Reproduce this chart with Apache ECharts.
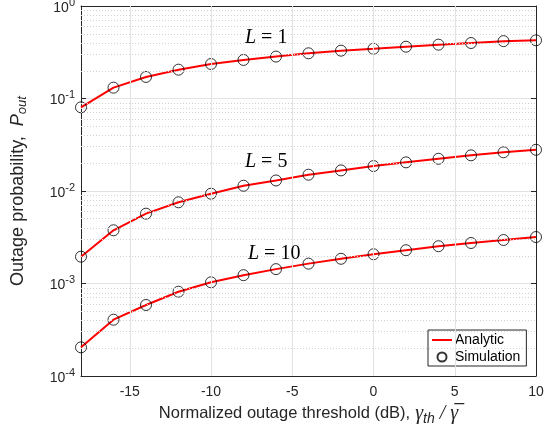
<!DOCTYPE html>
<html>
<head>
<meta charset="utf-8">
<script src="https://cdn.jsdelivr.net/npm/echarts@6/dist/echarts.min.js"></script>
<style>
html, body { margin: 0; padding: 0; background: #fff; }
#main { width: 549px; height: 434px; }
</style>
</head>
<body>
<div id="main"></div>
<script>
// threshold in dB
var xValues = [-18, -16, -14, -12, -10, -8, -6, -4, -2, 0, 2, 4, 6, 8, 10];
// outage probability, L = 1
var pL1 = [0.0803, 0.131, 0.171, 0.205, 0.236, 0.261, 0.284, 0.308, 0.329, 0.345, 0.363, 0.382, 0.398, 0.417, 0.426];
// L = 5
var pL5 = [0.00195, 0.00376, 0.00569, 0.00755, 0.00935, 0.0114, 0.0130, 0.0150, 0.0167, 0.0186, 0.0204, 0.0223, 0.0243, 0.0262, 0.0279];
// L = 10
var pL10 = [0.000204, 0.000406, 0.000586, 0.000815, 0.00103, 0.00123, 0.00143, 0.00164, 0.00185, 0.00207, 0.00229, 0.00253, 0.00274, 0.00295, 0.00318];
var xTicks = [-15, -10, -5, 0, 5, 10];
var decades = [1e-4, 1e-3, 1e-2, 1e-1];

// minor log grid positions (2..9 x each decade), as exponents
var minorExp = [];
for (var d = 0; d < decades.length; d++) {
	for (var m = 2; m <= 9; m++) minorExp.push(Math.log10(decades[d] * m));
}

var sansFont = 'Liberation Sans';
var serifFont = 'Liberation Serif';
var textColor = '#262626';

function pairs(ys) {
	var out = [];
	for (var i = 0; i < xValues.length; i++) out.push([xValues[i], ys[i]]);
	return out;
}

function lineSeries(ys) {
	return {
		name: 'Analytic',
		type: 'line',
		symbol: 'none',
		smooth: false,
		lineStyle: { color: '#ff0000', width: 2 },
		itemStyle: { color: '#ff0000' },
		z: 3,
		data: pairs(ys)
	};
}

function markerSeries(ys) {
	return {
		name: 'Simulation',
		type: 'scatter',
		symbol: 'circle',
		symbolSize: 11,
		itemStyle: { color: 'rgba(0,0,0,0)', borderColor: '#000', borderWidth: 1 },
		z: 4,
		data: pairs(ys)
	};
}

function lLabel(n) {
	return {
		text: '{i|L}{n| = ' + n + '}',
		rich: {
			i: { fontFamily: serifFont, fontStyle: 'italic', fontSize: 20, color: '#000' },
			n: { fontFamily: serifFont, fontSize: 20, color: '#000' }
		}
	};
}

var myChart = echarts.init(document.getElementById('main'));

var option = {
	animation: false,
	backgroundColor: '#fff',
	textStyle: { fontFamily: sansFont },
	grid: { left: 81, right: 13, top: 6, bottom: 58, outerBoundsMode: 'none', containLabel: false },
	legend: {
		orient: 'vertical',
		left: 428,
		top: 330,
		data: [
			{ name: 'Analytic', icon: 'path://M0,0H20V2H0Z' },
			{ name: 'Simulation' }
		],
		backgroundColor: '#fff',
		borderColor: '#262626',
		borderWidth: 1,
		borderRadius: 0,
		padding: [3, 6, 2, 4],
		itemGap: 3,
		itemWidth: 20,
		itemHeight: 9,
		textStyle: { fontFamily: sansFont, fontSize: 14, color: '#000', padding: [0, 0, 0, -2] }
	},
	xAxis: [{
		type: 'value',
		min: -18,
		max: 10,
		name: '{n|Normalized outage threshold (dB),}{g| γ}{sub|th}{g| / γ\u0305}',
		nameLocation: 'middle',
		nameGap: 24,
		nameTextStyle: {
			rich: {
				n: { fontFamily: sansFont, fontSize: 16.5, color: textColor },
				g: { fontFamily: serifFont, fontStyle: 'italic', fontSize: 20, color: textColor },
				sub: { fontFamily: sansFont, fontStyle: 'italic', fontSize: 14, color: textColor, verticalAlign: 'bottom', padding: [10, 0, 0, 0] }
			}
		},
		axisLine: { show: true, onZero: false, lineStyle: { color: '#262626', width: 1 } },
		axisTick: { show: true, inside: true, length: 5, customValues: xTicks, lineStyle: { color: '#262626' } },
		axisLabel: { customValues: xTicks, fontSize: 14, color: textColor, margin: 9, fontFamily: sansFont },
		splitLine: { show: false }
	}, {
		type: 'value',
		position: 'top',
		min: -18,
		max: 10,
		axisLine: { show: true, onZero: false, lineStyle: { color: '#262626', width: 1 } },
		axisTick: { show: true, inside: true, length: 5, customValues: xTicks, lineStyle: { color: '#262626' } },
		axisLabel: { show: false },
		splitLine: { show: false }
	}],
	yAxis: [{
		type: 'log',
		logBase: 10,
		min: 1e-4,
		max: 1,
		name: '{n|Outage probability,  }{i|P}{sub|out}',
		nameLocation: 'middle',
		nameGap: 52,
		nameRotate: 90,
		nameTextStyle: {
			rich: {
				n: { fontFamily: sansFont, fontSize: 18, color: textColor },
				i: { fontFamily: sansFont, fontStyle: 'italic', fontSize: 18, color: textColor },
				sub: { fontFamily: sansFont, fontStyle: 'italic', fontSize: 13, color: textColor, verticalAlign: 'bottom', padding: [9, 0, 0, 0] }
			}
		},
		axisLine: { show: true, onZero: false, lineStyle: { color: '#262626', width: 1 } },
		axisTick: { show: true, inside: true, length: 5, lineStyle: { color: '#262626' } },
		axisLabel: {
			margin: 6,
			formatter: function (v) {
				var e = Math.round(Math.log10(v));
				return '{b|10}{s|' + e + '}';
			},
			rich: {
				b: { fontFamily: sansFont, fontSize: 14, color: textColor, lineHeight: 18, verticalAlign: 'bottom' },
				s: { fontFamily: sansFont, fontSize: 11, color: textColor, lineHeight: 11, verticalAlign: 'top' }
			}
		},
		splitLine: { show: true, lineStyle: { color: '#e2e2e2', width: 1 } }
	}, {
		type: 'log',
		logBase: 10,
		min: 1e-4,
		max: 1,
		position: 'right',
		axisLine: { show: true, onZero: false, lineStyle: { color: '#262626', width: 1 } },
		axisTick: { show: true, inside: true, length: 5, lineStyle: { color: '#262626' } },
		axisLabel: { show: false },
		splitLine: { show: false }
	}, {
		// hidden linear exponent axis, used only to place the dotted minor grid
		type: 'value',
		min: -4,
		max: 0,
		show: false
	}],
	graphic: [
		{ type: 'text', left: 245, top: 28, style: lLabel(1), z: 10 },
		{ type: 'text', left: 245, top: 152, style: lLabel(5), z: 10 },
		{ type: 'text', left: 248, top: 244, style: lLabel(10), z: 10 }
	],
	series: [
		{
			name: 'minorGrid',
			type: 'line',
			yAxisIndex: 2,
			data: [],
			silent: true,
			markLine: {
				silent: true,
				symbol: 'none',
				label: { show: false },
				lineStyle: { color: '#d0d0d0', type: [1, 2], width: 1 },
				data: minorExp.map(function (v) { return { yAxis: v }; })
			}
		},
		{
			name: 'majorGridX',
			type: 'line',
			yAxisIndex: 2,
			data: [],
			silent: true,
			markLine: {
				silent: true,
				symbol: 'none',
				label: { show: false },
				lineStyle: { color: '#e2e2e2', type: 'solid', width: 1 },
				data: xTicks.slice(0, xTicks.length - 1).map(function (v) { return { xAxis: v }; })
			}
		},
		lineSeries(pL1),
		lineSeries(pL5),
		lineSeries(pL10),
		markerSeries(pL1),
		markerSeries(pL5),
		markerSeries(pL10)
	]
};
myChart.setOption(option);
</script>
</body>
</html>
